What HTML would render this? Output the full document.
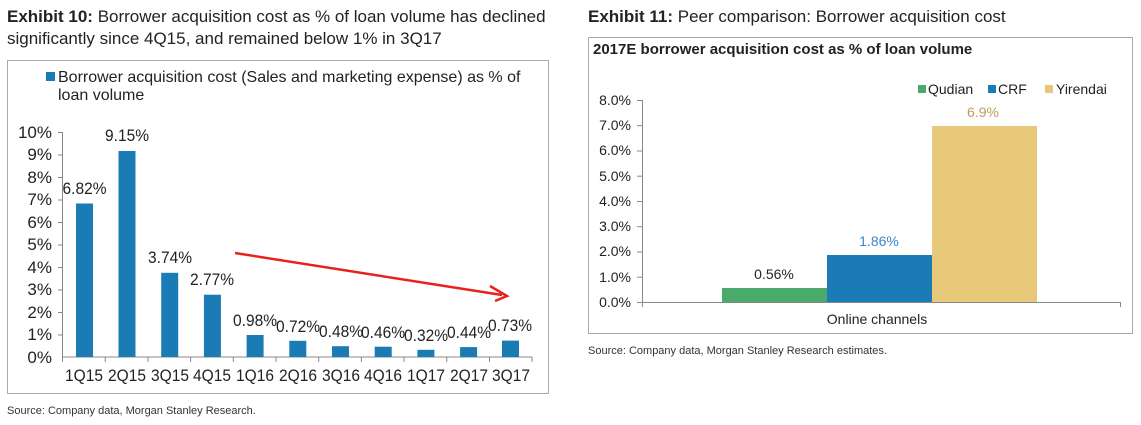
<!DOCTYPE html>
<html><head><meta charset="utf-8"><style>
body{margin:0;background:#fff;}
svg{display:block;font-family:"Liberation Sans",Arial,sans-serif;}
</style></head><body>
<svg width="1141" height="425" viewBox="0 0 1141 425" xmlns="http://www.w3.org/2000/svg">
<rect width="1141" height="425" fill="#fff"/>
<text x="7" y="22" font-size="17" fill="#222"><tspan font-weight="bold">Exhibit 10:</tspan> Borrower acquisition cost as % of loan volume has declined</text>
<text x="7" y="44" font-size="17" fill="#222">significantly since 4Q15, and remained below 1% in 3Q17</text>
<rect x="7.5" y="60.5" width="541" height="333" fill="none" stroke="#aaa" stroke-width="1"/>
<rect x="46" y="72" width="9" height="9" fill="#1a7bb5"/>
<text x="58" y="82" font-size="16" fill="#222">Borrower acquisition cost (Sales and marketing expense) as % of</text>
<text x="58" y="100" font-size="16" fill="#222">loan volume</text>
<g font-size="17" fill="#222" text-anchor="end">
<text x="52" y="138">10%</text><text x="52" y="160">9%</text><text x="52" y="183">8%</text><text x="52" y="205">7%</text><text x="52" y="228">6%</text><text x="52" y="250">5%</text><text x="52" y="273">4%</text><text x="52" y="295">3%</text><text x="52" y="318">2%</text><text x="52" y="340">1%</text><text x="52" y="363">0%</text>
</g>
<g stroke="#888" stroke-width="1">
<line x1="62.5" y1="132" x2="62.5" y2="357"/>
<line x1="58" y1="132.5" x2="62" y2="132.5"/><line x1="58" y1="155" x2="62" y2="155"/><line x1="58" y1="177.5" x2="62" y2="177.5"/><line x1="58" y1="200" x2="62" y2="200"/><line x1="58" y1="222.5" x2="62" y2="222.5"/><line x1="58" y1="245" x2="62" y2="245"/><line x1="58" y1="267.5" x2="62" y2="267.5"/><line x1="58" y1="290" x2="62" y2="290"/><line x1="58" y1="312.5" x2="62" y2="312.5"/><line x1="58" y1="335" x2="62" y2="335"/>
<line x1="62" y1="357" x2="532" y2="357"/>
<line x1="62.5" y1="357" x2="62.5" y2="362"/><line x1="105.2" y1="357" x2="105.2" y2="362"/><line x1="147.9" y1="357" x2="147.9" y2="362"/><line x1="190.6" y1="357" x2="190.6" y2="362"/><line x1="233.3" y1="357" x2="233.3" y2="362"/><line x1="276" y1="357" x2="276" y2="362"/><line x1="318.7" y1="357" x2="318.7" y2="362"/><line x1="361.4" y1="357" x2="361.4" y2="362"/><line x1="404.1" y1="357" x2="404.1" y2="362"/><line x1="446.8" y1="357" x2="446.8" y2="362"/><line x1="489.5" y1="357" x2="489.5" y2="362"/><line x1="532" y1="357" x2="532" y2="362"/>
</g>
<g fill="#1a7bb5">
<rect x="76" y="203.5" width="17" height="153.5"/>
<rect x="118.5" y="151" width="17" height="206"/>
<rect x="161.2" y="272.8" width="17" height="84.2"/>
<rect x="203.9" y="294.7" width="17" height="62.3"/>
<rect x="246.6" y="335" width="17" height="22"/>
<rect x="289.3" y="340.8" width="17" height="16.2"/>
<rect x="332" y="346.2" width="17" height="10.8"/>
<rect x="374.7" y="346.7" width="17" height="10.3"/>
<rect x="417.4" y="349.8" width="17" height="7.2"/>
<rect x="460.1" y="347.1" width="17" height="9.9"/>
<rect x="502" y="340.6" width="17" height="16.4"/>
</g>
<g font-size="17" fill="#222" text-anchor="middle" lengthAdjust="spacingAndGlyphs">
<text x="84.5" y="194" textLength="44" lengthAdjust="spacingAndGlyphs">6.82%</text>
<text x="127" y="141" textLength="44" lengthAdjust="spacingAndGlyphs">9.15%</text>
<text x="170" y="263" textLength="44" lengthAdjust="spacingAndGlyphs">3.74%</text>
<text x="212" y="285" textLength="44" lengthAdjust="spacingAndGlyphs">2.77%</text>
<text x="255" y="326" textLength="44" lengthAdjust="spacingAndGlyphs">0.98%</text>
<text x="298" y="332" textLength="44" lengthAdjust="spacingAndGlyphs">0.72%</text>
<text x="341" y="337" textLength="44" lengthAdjust="spacingAndGlyphs">0.48%</text>
<text x="383" y="338" textLength="44" lengthAdjust="spacingAndGlyphs">0.46%</text>
<text x="426" y="341" textLength="44" lengthAdjust="spacingAndGlyphs">0.32%</text>
<text x="469" y="338" textLength="44" lengthAdjust="spacingAndGlyphs">0.44%</text>
<text x="510" y="331" textLength="44" lengthAdjust="spacingAndGlyphs">0.73%</text>
</g>
<g font-size="17" fill="#222" text-anchor="middle">
<text x="84" y="381" textLength="38" lengthAdjust="spacingAndGlyphs">1Q15</text><text x="127" y="381" textLength="38" lengthAdjust="spacingAndGlyphs">2Q15</text><text x="170" y="381" textLength="38" lengthAdjust="spacingAndGlyphs">3Q15</text><text x="212" y="381" textLength="38" lengthAdjust="spacingAndGlyphs">4Q15</text><text x="255" y="381" textLength="38" lengthAdjust="spacingAndGlyphs">1Q16</text><text x="298" y="381" textLength="38" lengthAdjust="spacingAndGlyphs">2Q16</text><text x="341" y="381" textLength="38" lengthAdjust="spacingAndGlyphs">3Q16</text><text x="383" y="381" textLength="38" lengthAdjust="spacingAndGlyphs">4Q16</text><text x="426" y="381" textLength="38" lengthAdjust="spacingAndGlyphs">1Q17</text><text x="469" y="381" textLength="38" lengthAdjust="spacingAndGlyphs">2Q17</text><text x="511" y="381" textLength="38" lengthAdjust="spacingAndGlyphs">3Q17</text>
</g>
<line x1="235" y1="253" x2="502" y2="295" stroke="#e8211d" stroke-width="2.5"/>
<polyline points="490,286 507,296 495,301" fill="none" stroke="#e8211d" stroke-width="2.5"/>
<text x="7" y="414" font-size="11" fill="#333">Source: Company data, Morgan Stanley Research.</text>

<text x="588" y="22" font-size="17" fill="#222"><tspan font-weight="bold">Exhibit 11:</tspan> Peer comparison: Borrower acquisition cost</text>
<rect x="588.5" y="37.5" width="544" height="296" fill="none" stroke="#aaa" stroke-width="1"/>
<text x="593" y="54" font-size="15" font-weight="bold" fill="#222">2017E borrower acquisition cost as % of loan volume</text>
<rect x="918" y="85" width="8" height="8" fill="#4aaa6a"/>
<text x="928" y="94" font-size="14" fill="#222">Qudian</text>
<rect x="988" y="85" width="8" height="8" fill="#1a7bb5"/>
<text x="998" y="94" font-size="14" fill="#222">CRF</text>
<rect x="1045" y="85" width="8" height="8" fill="#e8c97a"/>
<text x="1056" y="94" font-size="14" fill="#222">Yirendai</text>
<g font-size="14" fill="#222" text-anchor="end">
<text x="631" y="105">8.0%</text><text x="631" y="130">7.0%</text><text x="631" y="155">6.0%</text><text x="631" y="181">5.0%</text><text x="631" y="206">4.0%</text><text x="631" y="231">3.0%</text><text x="631" y="256">2.0%</text><text x="631" y="282">1.0%</text><text x="631" y="307">0.0%</text>
</g>
<g stroke="#888" stroke-width="1">
<line x1="642.5" y1="100" x2="642.5" y2="307"/>
<line x1="637" y1="100.5" x2="642" y2="100.5"/><line x1="637" y1="125.7" x2="642" y2="125.7"/><line x1="637" y1="151" x2="642" y2="151"/><line x1="637" y1="176.2" x2="642" y2="176.2"/><line x1="637" y1="201.5" x2="642" y2="201.5"/><line x1="637" y1="226.7" x2="642" y2="226.7"/><line x1="637" y1="252" x2="642" y2="252"/><line x1="637" y1="277.2" x2="642" y2="277.2"/>
<line x1="637" y1="302.5" x2="1121" y2="302.5"/>
<line x1="1120.5" y1="302" x2="1120.5" y2="307"/>
</g>
<rect x="722" y="288" width="105" height="14" fill="#4aaa6a"/>
<rect x="827" y="255" width="105" height="47" fill="#1a7bb5"/>
<rect x="932" y="126" width="105" height="176" fill="#e8c97a"/>
<text x="774" y="279" font-size="14" fill="#222" text-anchor="middle">0.56%</text>
<text x="879" y="246" font-size="14" fill="#3a86c8" text-anchor="middle">1.86%</text>
<text x="983" y="117" font-size="14" fill="#c09a55" text-anchor="middle">6.9%</text>
<text x="877" y="324" font-size="14" fill="#222" text-anchor="middle">Online channels</text>
<text x="588" y="354" font-size="11" fill="#333">Source: Company data, Morgan Stanley Research estimates.</text>
</svg>
</body></html>
